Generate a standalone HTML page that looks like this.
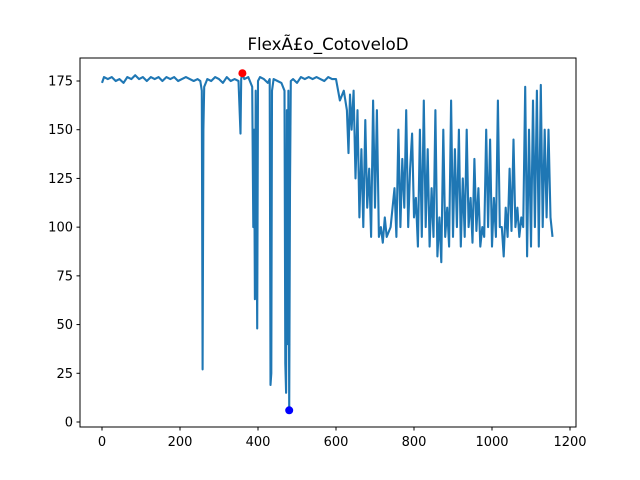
<!DOCTYPE html>
<html><head><meta charset="utf-8"><style>
body{margin:0;background:#fff;}
svg{display:block;font-family:"DejaVu Sans","Liberation Sans",sans-serif;}
</style></head><body>
<svg id="chart" width="640" height="480">
<rect x="0" y="0" width="640" height="480" fill="#fff"/>
<text x="328" y="50" text-anchor="middle" font-size="16.7">FlexÃ£o_CotoveloD</text>
<g id="plot"></g>
<rect x="80" y="58" width="496" height="369" fill="none" stroke="#000" stroke-width="1"/>
</svg>
<script>
const xIdx=[0,5,15,25,35,45,55,65,75,85,95,105,115,125,135,145,155,165,175,185,195,205,215,225,235,245,252,256,258,260,262,270,280,290,300,310,320,330,340,350,355,357,360,365,375,385,388,390,392,394,396,398,400,405,415,425,430,432,434,436,440,450,460,468,470,472,474,476,478,480,482,484,490,500,510,520,530,540,550,560,570,580,590,600,610,620,628,632,636,640,645,650,655,660,665,670,675,680,685,690,695,700,705,710,715,720,725,730,740,750,755,760,765,770,775,780,785,790,795,800,805,810,815,820,825,830,835,840,845,850,855,860,865,870,875,880,885,890,895,900,905,910,915,920,925,930,935,940,945,950,955,960,965,970,975,980,985,990,995,1000,1005,1010,1015,1020,1025,1030,1035,1040,1045,1050,1055,1060,1065,1070,1075,1080,1085,1090,1095,1100,1105,1110,1115,1120,1125,1130,1135,1140,1145,1150,1155];
const yVals=[174,177,176,177,175,176,174,177,176,178,176,177,175,177,176,177,175,177,176,177,175,176,177,176,175,176,175,170,27,150,172,176,175,177,176,174,177,175,176,175,148,176,179,176,177,172,100,150,63,170,120,48,175,177,176,174,176,19,25,170,176,175,174,170,30,15,160,40,170,6,120,175,176,174,177,176,177,176,177,176,175,177,176,176,165,170,160,138,168,150,170,125,160,105,140,100,155,110,130,95,165,110,160,95,100,92,105,95,100,120,95,150,100,135,110,160,100,130,148,105,115,90,150,95,165,100,140,90,120,95,160,85,105,82,150,95,110,90,165,95,140,100,150,90,125,95,150,100,115,92,135,98,120,90,100,95,150,100,145,90,115,95,165,100,100,85,110,95,130,98,145,100,110,95,105,100,172,85,150,90,165,100,170,90,173,100,150,105,150,105,95];
const xTicks=[0,200,400,600,800,1000,1200];
const yTicks=[0,25,50,75,100,125,150,175];
const maxPt=[360,179], minPt=[480,6];
const sx=v=>102+v*0.39;
const sy=v=>422-v*(341/175);
const NS="http://www.w3.org/2000/svg";
const g=document.getElementById('plot');
function mk(t,a){const e=document.createElementNS(NS,t);for(const k in a)e.setAttribute(k,a[k]);g.appendChild(e);return e;}
xTicks.forEach(t=>{
 const l=mk('line',{x1:sx(t),x2:sx(t),y1:427,y2:430.5,stroke:'#000'});
 
 
 const tx=mk('text',{x:sx(t),y:446,'text-anchor':'middle','font-size':13});
 tx.textContent=t;
 
 
});
yTicks.forEach(t=>{
 const l=mk('line',{x1:76.5,x2:80,y1:sy(t),y2:sy(t),stroke:'#000'});
 
 
 const tx=mk('text',{x:73,y:sy(t)+4.5,'text-anchor':'end','font-size':13});
 tx.textContent=t;
 
 
});
const p=mk('polyline',{points:xIdx.map((x,i)=>sx(x).toFixed(1)+','+sy(yVals[i]).toFixed(1)).join(' '),fill:'none',stroke:'#1f77b4','stroke-width':2.1,'stroke-linejoin':'round'});


const mx=mk('circle',{cx:sx(maxPt[0]),cy:sy(maxPt[1]),r:4,fill:'red'});


const mn=mk('circle',{cx:sx(minPt[0]),cy:sy(minPt[1]),r:4,fill:'blue'});


</script>
</body></html>
